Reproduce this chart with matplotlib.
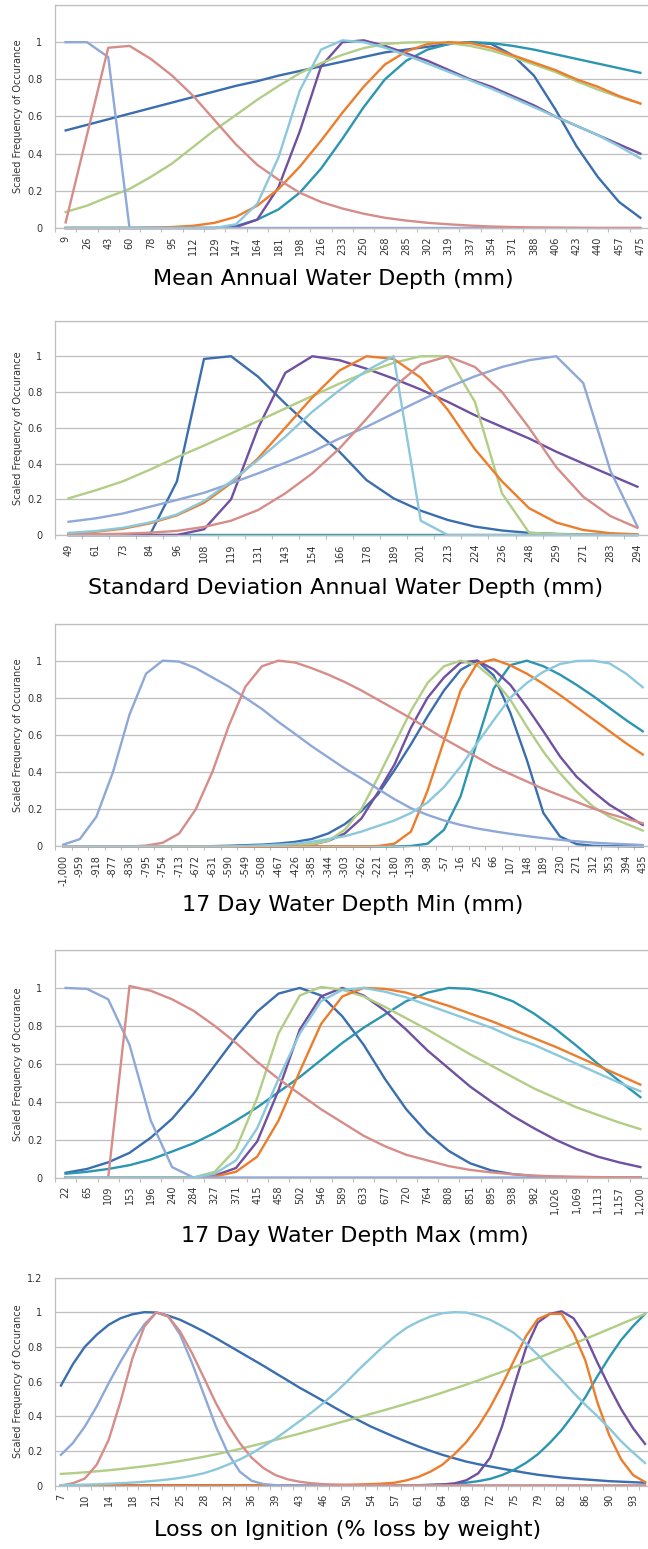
import matplotlib.pyplot as plt
import numpy as np

"""
SCALED FREQUENCY CURVES FOR FIVE HABITAT VARIABLES
"""

W, H = 648, 1549  # (px) figure size at dpi 100

# SERIES COLOURS
c_dblue = "#3A6EAF"
c_lblue = "#8EA8D8"
c_pink = "#D68D89"
c_green = "#B1CD86"
c_purple = "#7050A0"
c_cyan = "#8BC8DC"
c_orange = "#EC7D2D"
c_teal = "#2C96B0"

# MEAN ANNUAL WATER DEPTH (mm)
mean_labels = ["9", "26", "43", "60", "78", "95", "112", "129", "147", "164", "181", "198", "216", "233",
               "250", "268", "285", "302", "319", "337", "354", "371", "388", "406", "423", "440", "457", "475"]
mean_dblue = [0.525, 0.555, 0.585, 0.615, 0.645, 0.675, 0.705, 0.735, 0.765, 0.79, 0.82, 0.845, 0.87, 0.895,
              0.92, 0.945, 0.96, 0.975, 0.99, 1.0, 0.99, 0.93, 0.82, 0.64, 0.44, 0.275, 0.14, 0.055]
mean_lblue = [1.0, 1.0, 0.92, 0, 0, 0, 0, 0, 0, 0, 0, 0, 0, 0,
              0, 0, 0, 0, 0, 0, 0, 0, 0, 0, 0, 0, 0, 0]
mean_pink = [0.03, 0.5, 0.97, 0.98, 0.91, 0.82, 0.71, 0.58, 0.45, 0.34, 0.26, 0.19, 0.14, 0.105,
             0.077, 0.055, 0.04, 0.028, 0.02, 0.013, 0.008, 0.005, 0.003, 0.002, 0.001, 0, 0, 0]
mean_green = [0.086, 0.12, 0.167, 0.21, 0.275, 0.347, 0.437, 0.527, 0.608, 0.69, 0.764, 0.833, 0.887, 0.932,
              0.968, 0.99, 0.998, 1.0, 0.995, 0.98, 0.955, 0.92, 0.88, 0.84, 0.79, 0.745, 0.705, 0.67]
mean_purple = [0, 0, 0, 0, 0, 0, 0, 0, 0.005, 0.045, 0.22, 0.52, 0.87, 1.0,
               1.01, 0.98, 0.94, 0.9, 0.85, 0.8, 0.76, 0.71, 0.66, 0.6, 0.55, 0.5, 0.45, 0.4]
mean_cyan = [0, 0, 0, 0, 0, 0, 0, 0, 0.02, 0.13, 0.38, 0.74, 0.96, 1.01,
             1.0, 0.97, 0.93, 0.885, 0.84, 0.795, 0.75, 0.7, 0.65, 0.6, 0.55, 0.5, 0.44, 0.375]
mean_orange = [0, 0, 0, 0, 0.002, 0.005, 0.012, 0.028, 0.06, 0.12, 0.21, 0.33, 0.47, 0.62,
               0.76, 0.88, 0.95, 0.99, 1.0, 0.995, 0.97, 0.93, 0.89, 0.85, 0.8, 0.76, 0.71, 0.67]
mean_teal = [0, 0, 0, 0, 0, 0, 0, 0, 0.01, 0.045, 0.1, 0.19, 0.32, 0.48,
             0.65, 0.8, 0.9, 0.96, 0.99, 1.0, 0.995, 0.98, 0.96, 0.935, 0.91, 0.885, 0.86, 0.835]

# STANDARD DEVIATION ANNUAL WATER DEPTH (mm)
std_labels = ["49", "61", "73", "84", "96", "108", "119", "131", "143", "154", "166",
              "178", "189", "201", "213", "224", "236", "248", "259", "271", "283", "294"]
std_dblue = [0, 0, 0, 0, 0.3, 0.985, 1.0, 0.885, 0.735, 0.596, 0.466,
             0.307, 0.205, 0.136, 0.084, 0.047, 0.025, 0.012, 0.006, 0.003, 0.001, 0]
std_lblue = [0.074, 0.093, 0.12, 0.158, 0.196, 0.236, 0.289, 0.345, 0.404, 0.466, 0.54,
             0.605, 0.68, 0.754, 0.825, 0.888, 0.94, 0.978, 1.0, 0.85, 0.36, 0.047]
std_pink = [0.002, 0.004, 0.007, 0.013, 0.023, 0.045, 0.08, 0.14, 0.233, 0.345, 0.484,
            0.65, 0.825, 0.955, 1.0, 0.94, 0.8, 0.6, 0.38, 0.214, 0.106, 0.04]
std_green = [0.205, 0.25, 0.3, 0.365, 0.435, 0.5, 0.568, 0.638, 0.708, 0.778, 0.847,
             0.91, 0.963, 1.0, 1.0, 0.745, 0.233, 0.013, 0.005, 0.002, 0.001, 0]
std_purple = [0, 0, 0, 0, 0, 0.032, 0.2, 0.6, 0.907, 1.0, 0.978,
              0.93, 0.875, 0.814, 0.745, 0.67, 0.605, 0.54, 0.466, 0.4, 0.335, 0.27]
std_cyan = [0.012, 0.022, 0.04, 0.07, 0.115, 0.19, 0.3, 0.42, 0.55, 0.69, 0.81,
            0.92, 1.0, 0.08, 0, 0, 0, 0, 0, 0, 0, 0]
std_orange = [0.008, 0.018, 0.035, 0.065, 0.11, 0.18, 0.29, 0.43, 0.6, 0.77, 0.92,
              1.0, 0.985, 0.88, 0.7, 0.48, 0.3, 0.15, 0.07, 0.028, 0.01, 0.004]
std_teal = [0, 0, 0, 0, 0, 0, 0, 0, 0, 0, 0,
            0, 0, 0, 0, 0, 0, 0, 0, 0, 0, 0]

# 17 DAY WATER DEPTH MIN (mm)
min_labels = ["-1,000", "-959", "-918", "-877", "-836", "-795", "-754", "-713", "-672", "-631", "-590", "-549",
              "-508", "-467", "-426", "-385", "-344", "-303", "-262", "-221", "-180", "-139", "-98", "-57",
              "-16", "25", "66", "107", "148", "189", "230", "271", "312", "353", "394", "435"]
min_dblue = [0, 0, 0, 0, 0, 0, 0, 0, 0, 0.002, 0.004, 0.007,
             0.01, 0.016, 0.025, 0.04, 0.07, 0.12, 0.19, 0.28, 0.41, 0.55, 0.7, 0.84,
             0.95, 1.0, 0.92, 0.72, 0.466, 0.18, 0.054, 0.013, 0.004, 0.002, 0.001, 0]
min_lblue = [0.01, 0.04, 0.16, 0.4, 0.71, 0.93, 1.0, 0.995, 0.96, 0.91, 0.86, 0.8,
             0.74, 0.67, 0.606, 0.54, 0.48, 0.42, 0.367, 0.31, 0.255, 0.206, 0.17, 0.14,
             0.116, 0.097, 0.082, 0.068, 0.056, 0.045, 0.036, 0.028, 0.021, 0.016, 0.012, 0.008]
min_pink = [0, 0, 0, 0, 0, 0.005, 0.02, 0.07, 0.2, 0.4, 0.65, 0.86,
            0.97, 1.0, 0.99, 0.96, 0.925, 0.885, 0.84, 0.79, 0.74, 0.69, 0.635, 0.58,
            0.53, 0.48, 0.43, 0.39, 0.35, 0.31, 0.275, 0.24, 0.205, 0.175, 0.15, 0.125]
min_green = [0, 0, 0, 0, 0, 0, 0, 0, 0, 0, 0, 0,
             0, 0.003, 0.006, 0.012, 0.03, 0.09, 0.2, 0.37, 0.55, 0.73, 0.88, 0.97,
             1.0, 0.975, 0.9, 0.79, 0.645, 0.51, 0.395, 0.296, 0.215, 0.16, 0.122, 0.086]
min_purple = [0, 0, 0, 0, 0, 0, 0, 0, 0, 0, 0, 0,
              0, 0.002, 0.005, 0.01, 0.03, 0.07, 0.15, 0.29, 0.44, 0.64, 0.8, 0.91,
              0.99, 1.0, 0.953, 0.87, 0.75, 0.62, 0.485, 0.376, 0.296, 0.224, 0.17, 0.116]
min_cyan = [0, 0, 0, 0, 0, 0, 0, 0, 0, 0, 0, 0.003,
            0.006, 0.01, 0.015, 0.025, 0.04, 0.055, 0.08, 0.11, 0.14, 0.18, 0.237, 0.32,
            0.43, 0.556, 0.68, 0.8, 0.88, 0.94, 0.982, 0.998, 1.0, 0.985, 0.93, 0.857]
min_orange = [0, 0, 0, 0, 0, 0, 0, 0, 0, 0, 0, 0,
              0, 0, 0, 0, 0, 0, 0, 0.002, 0.015, 0.08, 0.3, 0.57,
              0.84, 0.985, 1.007, 0.975, 0.93, 0.875, 0.815, 0.75, 0.685, 0.62, 0.555, 0.495]
min_teal = [0, 0, 0, 0, 0, 0, 0, 0, 0, 0, 0, 0,
            0, 0, 0, 0, 0, 0, 0, 0, 0, 0.003, 0.015, 0.09,
            0.27, 0.565, 0.85, 0.976, 1.0, 0.97, 0.925, 0.87, 0.81, 0.745, 0.68, 0.62]

# 17 DAY WATER DEPTH MAX (mm)
max_labels = ["22", "65", "109", "153", "196", "240", "284", "327", "371", "415", "458", "502", "546", "589",
              "633", "677", "720", "764", "808", "851", "895", "938", "982", "1,026", "1,069", "1,113",
              "1,157", "1,200"]
max_dblue = [0.025, 0.045, 0.08, 0.13, 0.21, 0.31, 0.44, 0.59, 0.74, 0.875, 0.97, 1.0, 0.96, 0.85,
             0.7, 0.52, 0.36, 0.235, 0.14, 0.075, 0.037, 0.018, 0.008, 0.003, 0.001, 0, 0, 0]
max_lblue = [1.0, 0.995, 0.94, 0.7, 0.3, 0.055, 0, 0, 0, 0, 0, 0, 0, 0,
             0, 0, 0, 0, 0, 0, 0, 0, 0, 0, 0, 0, 0, 0]
max_pink = [0, 0, 0, 1.01, 0.985, 0.94, 0.88, 0.8, 0.71, 0.61, 0.52, 0.44, 0.36, 0.29,
            0.22, 0.165, 0.12, 0.09, 0.06, 0.04, 0.027, 0.017, 0.01, 0.006, 0.004, 0.002, 0.001, 0]
max_green = [0, 0, 0, 0, 0, 0, 0, 0.03, 0.15, 0.42, 0.76, 0.96, 1.005, 0.99,
             0.955, 0.9, 0.84, 0.78, 0.715, 0.65, 0.59, 0.53, 0.47, 0.42, 0.37, 0.33, 0.29, 0.255]
max_purple = [0, 0, 0, 0, 0, 0, 0, 0.01, 0.05, 0.19, 0.46, 0.78, 0.955, 1.0,
              0.96, 0.88, 0.78, 0.67, 0.575, 0.48, 0.4, 0.325, 0.26, 0.2, 0.15, 0.11, 0.08, 0.055]
max_cyan = [0, 0, 0, 0, 0, 0, 0, 0.02, 0.09, 0.26, 0.52, 0.76, 0.93, 0.99,
            1.0, 0.98, 0.95, 0.91, 0.87, 0.83, 0.79, 0.74, 0.7, 0.65, 0.6, 0.55, 0.5, 0.455]
max_orange = [0, 0, 0, 0, 0, 0, 0, 0.005, 0.03, 0.11, 0.3, 0.56, 0.81, 0.955,
              1.0, 0.995, 0.975, 0.94, 0.905, 0.865, 0.825, 0.78, 0.735, 0.69, 0.64, 0.59, 0.54, 0.49]
max_teal = [0.02, 0.03, 0.045, 0.065, 0.095, 0.137, 0.18, 0.235, 0.3, 0.37, 0.45, 0.53, 0.62, 0.71,
            0.79, 0.86, 0.93, 0.975, 1.0, 0.995, 0.97, 0.93, 0.865, 0.785, 0.695, 0.6, 0.51, 0.424]

# LOSS ON IGNITION (% loss by weight) - one label every second category
loi_labels = ["7", "10", "14", "18", "21", "25", "28", "32", "36", "39", "43", "46", "50",
              "54", "57", "61", "64", "68", "72", "75", "79", "82", "86", "90", "93"]
loi_dblue = [0.577, 0.70, 0.80, 0.87, 0.927, 0.965, 0.988, 1.0, 0.998, 0.98,
             0.956, 0.923, 0.888, 0.85, 0.81, 0.77, 0.73, 0.69, 0.648, 0.607,
             0.565, 0.527, 0.488, 0.448, 0.41, 0.375, 0.34, 0.31, 0.28, 0.252,
             0.225, 0.2, 0.177, 0.157, 0.138, 0.123, 0.11, 0.097, 0.085, 0.073,
             0.062, 0.054, 0.046, 0.04, 0.035, 0.03, 0.025, 0.022, 0.019, 0.016]
loi_lblue = [0.177, 0.245, 0.34, 0.456, 0.59, 0.715, 0.83, 0.93, 0.998, 0.975,
             0.87, 0.706, 0.523, 0.34, 0.187, 0.08, 0.027, 0.008, 0.002, 0,
             0, 0, 0, 0, 0, 0, 0, 0, 0, 0,
             0, 0, 0, 0, 0, 0, 0, 0, 0, 0,
             0, 0, 0, 0, 0, 0, 0, 0, 0, 0]
loi_pink = [0, 0.013, 0.04, 0.12, 0.263, 0.485, 0.735, 0.917, 1.0, 0.975,
            0.888, 0.763, 0.62, 0.475, 0.35, 0.245, 0.16, 0.1, 0.06, 0.036,
            0.022, 0.013, 0.008, 0.005, 0.003, 0.002, 0.001, 0, 0, 0,
            0, 0, 0, 0, 0, 0, 0, 0, 0, 0,
            0, 0, 0, 0, 0, 0, 0, 0, 0, 0]
loi_green = [0.067, 0.071, 0.076, 0.082, 0.088, 0.095, 0.103, 0.111, 0.12, 0.13,
             0.141, 0.153, 0.166, 0.18, 0.195, 0.211, 0.228, 0.245, 0.263, 0.281,
             0.299, 0.318, 0.337, 0.356, 0.375, 0.394, 0.413, 0.432, 0.452, 0.472,
             0.493, 0.514, 0.536, 0.559, 0.582, 0.606, 0.631, 0.656, 0.682, 0.708,
             0.735, 0.762, 0.79, 0.818, 0.846, 0.874, 0.903, 0.932, 0.961, 0.99]
loi_purple = [0, 0, 0, 0, 0, 0, 0, 0, 0, 0,
              0, 0, 0, 0, 0, 0, 0, 0, 0, 0,
              0, 0, 0, 0, 0, 0, 0, 0, 0, 0,
              0.001, 0.003, 0.006, 0.012, 0.03, 0.07, 0.16, 0.34, 0.57, 0.79,
              0.94, 0.99, 1.005, 0.965, 0.86, 0.71, 0.57, 0.44, 0.33, 0.24]
loi_cyan = [0.002, 0.003, 0.005, 0.007, 0.01, 0.013, 0.017, 0.022, 0.028, 0.035,
            0.044, 0.056, 0.071, 0.093, 0.12, 0.15, 0.185, 0.227, 0.27, 0.32,
            0.37, 0.42, 0.475, 0.535, 0.6, 0.67, 0.735, 0.8, 0.86, 0.91,
            0.946, 0.975, 0.994, 1.0, 0.998, 0.98, 0.956, 0.92, 0.88, 0.82,
            0.754, 0.68, 0.61, 0.535, 0.465, 0.4, 0.33, 0.255, 0.19, 0.13]
loi_orange = [0, 0, 0, 0, 0, 0, 0, 0, 0, 0,
              0, 0, 0, 0, 0, 0, 0, 0, 0, 0,
              0.001, 0.001, 0.002, 0.003, 0.004, 0.006, 0.008, 0.011, 0.016, 0.03,
              0.05, 0.08, 0.12, 0.18, 0.25, 0.34, 0.45, 0.58, 0.72, 0.86,
              0.96, 0.99, 0.99, 0.88, 0.72, 0.48, 0.29, 0.15, 0.06, 0.02]
loi_teal = [0, 0, 0, 0, 0, 0, 0, 0, 0, 0,
            0, 0, 0, 0, 0, 0, 0, 0, 0, 0,
            0, 0, 0, 0, 0, 0, 0, 0, 0.001, 0.001,
            0.002, 0.004, 0.006, 0.01, 0.016, 0.025, 0.038, 0.06, 0.09, 0.13,
            0.18, 0.245, 0.32, 0.41, 0.51, 0.63, 0.74, 0.84, 0.92, 0.99]

grid_col = "#BFBFBF"
text_col = "#333333"

fig = plt.figure(figsize=(W / 100, H / 100), dpi=100)


def draw_panel(top, bottom, labels, step, slots, series, title, title_x, title_y, top_label):
    # axes runs from x=55 px to 651 px (just past the right edge of the image)
    ax = fig.add_axes([55 / W, 1 - bottom / H, 596 / W, (bottom - top) / H])
    for values, col in series:
        ax.plot(np.arange(len(values)), values, color=col, lw=1.7, clip_on=False,
                solid_joinstyle="round")
    ax.set_xlim(-0.5, slots - 0.5)
    ax.set_ylim(0, 1.2)

    ax.set_xticks(np.arange(len(labels)) * step)
    ax.set_xticklabels(labels, rotation=90, fontsize=7, color=text_col)
    ax.set_xticks(np.arange(slots + 1) - 0.5, minor=True)
    ax.tick_params(axis="x", which="major", length=0, pad=6)
    ax.tick_params(axis="x", which="minor", length=3, color=grid_col, width=0.8)

    yt = [0, 0.2, 0.4, 0.6, 0.8, 1.0, 1.2]
    ylab = ["0", "0.2", "0.4", "0.6", "0.8", "1", "1.2" if top_label else ""]
    ax.set_yticks(yt)
    ax.set_yticklabels(ylab, fontsize=7, color=text_col)
    ax.tick_params(axis="y", length=0, pad=9)
    ax.grid(axis="y", color=grid_col, lw=0.9)
    ax.set_axisbelow(True)

    for side in ["left", "bottom", "top"]:
        ax.spines[side].set_color(grid_col)
        ax.spines[side].set_linewidth(0.9)
    ax.spines["right"].set_visible(False)

    fig.text(18 / W, 1 - (top + bottom) / 2 / H, "Scaled Frequency of Occurance", rotation=90,
             ha="center", va="center", fontsize=7, color=text_col)
    fig.text(title_x / W, 1 - title_y / H, title, ha="center", va="center", fontsize=16, color="black")


def pack(dblue, lblue, pink, green, purple, cyan, orange, teal):
    # drawing order as in the source workbook (later series lie on top)
    return [(dblue, c_dblue), (teal, c_teal), (purple, c_purple), (green, c_green),
            (orange, c_orange), (lblue, c_lblue), (pink, c_pink), (cyan, c_cyan)]


draw_panel(5, 228, mean_labels, 1, 28,
           pack(mean_dblue, mean_lblue, mean_pink, mean_green, mean_purple, mean_cyan, mean_orange, mean_teal),
           "Mean Annual Water Depth (mm)", 333, 279, False)
draw_panel(320.5, 535, std_labels, 1, 22,
           pack(std_dblue, std_lblue, std_pink, std_green, std_purple, std_cyan, std_orange, std_teal),
           "Standard Deviation Annual Water Depth (mm)", 346, 588, False)
draw_panel(623.5, 846.5, min_labels, 1, 36,
           pack(min_dblue, min_lblue, min_pink, min_green, min_purple, min_cyan, min_orange, min_teal),
           "17 Day Water Depth Min (mm)", 353, 905, False)
draw_panel(950, 1177.5, max_labels, 1, 28,
           pack(max_dblue, max_lblue, max_pink, max_green, max_purple, max_cyan, max_orange, max_teal),
           "17 Day Water Depth Max (mm)", 355, 1236, False)
draw_panel(1277.5, 1485.5, loi_labels, 2, 49.5,
           pack(loi_dblue, loi_lblue, loi_pink, loi_green, loi_purple, loi_cyan, loi_orange, loi_teal),
           "Loss on Ignition (% loss by weight)", 348, 1530, True)

plt.savefig("out.png", dpi=100)
